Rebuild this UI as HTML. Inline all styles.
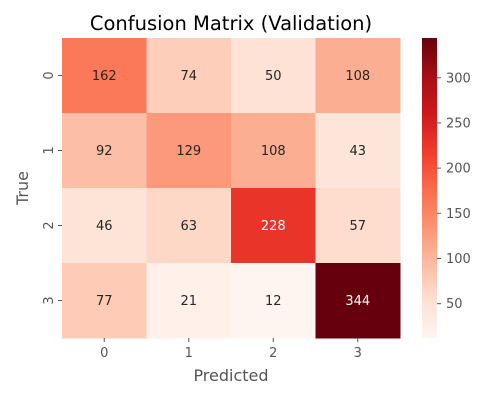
<!DOCTYPE html>
<html><head><meta charset="utf-8"><style>
body{margin:0;background:#fff;width:500px;height:400px;overflow:hidden}
svg{font-family:"DejaVu Sans","Liberation Sans",sans-serif}
</style></head><body>
<svg id="c" width="500" height="400" xmlns="http://www.w3.org/2000/svg">
<defs><linearGradient id="g" x1="0" y1="1" x2="0" y2="0">
<stop offset="0" stop-color="#fff5f0"/><stop offset="0.125" stop-color="#fee0d2"/><stop offset="0.25" stop-color="#fcbba1"/><stop offset="0.375" stop-color="#fc9272"/><stop offset="0.5" stop-color="#fb6a4a"/><stop offset="0.625" stop-color="#ef3b2c"/><stop offset="0.75" stop-color="#cb181d"/><stop offset="0.875" stop-color="#a50f15"/><stop offset="1" stop-color="#67000d"/>
</linearGradient></defs>
<text x="231" y="30" font-size="19.5" text-anchor="middle" fill="#000">Confusion Matrix (Validation)</text>
<text x="231" y="381" font-size="16" text-anchor="middle" fill="#555">Predicted</text>
<text x="0" y="0" font-size="16" text-anchor="middle" fill="#555" transform="translate(28,188) rotate(-90)">True</text>
<rect x="422" y="38" width="15" height="300" fill="url(#g)"/>
</svg>
<script>
const rowLabels=["0","1","2","3"];
const colLabels=["0","1","2","3"];
const row0=[162,74,50,108];
const row1=[92,129,108,43];
const row2=[46,63,228,57];
const row3=[77,21,12,344];
const cbTicks=[50,100,150,200,250,300];
const matrix=[row0,row1,row2,row3];
const NS="http://www.w3.org/2000/svg";
const svg=document.getElementById('c');
const all=matrix.flat();const vmin=Math.min(...all),vmax=Math.max(...all);
const X0=62,X1=400,Y0=38,Y1=338;
const cw=(X1-X0)/colLabels.length,ch=(Y1-Y0)/rowLabels.length;
const stops=["#fff5f0","#fee0d2","#fcbba1","#fc9272","#fb6a4a","#ef3b2c","#cb181d","#a50f15","#67000d"].map(h=>[1,3,5].map(i=>parseInt(h.substr(i,2),16)));
function color(v){let t=(v-vmin)/(vmax-vmin);t=Math.max(0,Math.min(1,t))*8;const i=Math.min(7,Math.floor(t)),f=t-i;const a=stops[i],b=stops[i+1];const c=a.map((x,k)=>Math.round(x+(b[k]-x)*f));return {s:`rgb(${c})`,l:(0.299*c[0]+0.587*c[1]+0.114*c[2])/255};}
function mk(tag,attrs){const e=document.createElementNS(NS,tag);for(const k in attrs)e.setAttribute(k,attrs[k]);svg.appendChild(e);return e;}
matrix.forEach((row,r)=>row.forEach((v,c)=>{
 const col=color(v);
 const rc=mk('rect',{x:X0+c*cw,y:Y0+r*ch,width:cw+0.5,height:ch+0.5,fill:col.s});
 
 
 const t=mk('text',{x:X0+(c+0.5)*cw,y:Y0+(r+0.5)*ch+4.5,'font-size':13,'text-anchor':'middle',fill:col.l<0.55?'#fff':'#262626'});
 t.textContent=v;
 
 
}));
colLabels.forEach((l,i)=>{const x=X0+(i+0.5)*cw;
 const tk=mk('line',{x1:x,x2:x,y1:Y1,y2:Y1+4,stroke:'#555'});
 
 
 const t=mk('text',{x:x,y:Y1+19,'font-size':13,'text-anchor':'middle',fill:'#555'});t.textContent=l;
 
 });
rowLabels.forEach((l,i)=>{const y=Y0+(i+0.5)*ch;
 const tk=mk('line',{x1:X0-4,x2:X0,y1:y,y2:y,stroke:'#555'});
 
 
 const t=mk('text',{x:0,y:0,'font-size':13,'text-anchor':'middle',fill:'#555',transform:`translate(${X0-9},${y}) rotate(-90)`});t.textContent=l;
 
 });
cbTicks.forEach(v=>{const y=Y1-(v-vmin)/(vmax-vmin)*(Y1-Y0);
 const tk=mk('line',{x1:437,x2:441,y1:y,y2:y,stroke:'#555'});
 
 
 const t=mk('text',{x:446,y:y+4.5,'font-size':13,fill:'#555'});t.textContent=v;
 
 });
</script>
</body></html>
